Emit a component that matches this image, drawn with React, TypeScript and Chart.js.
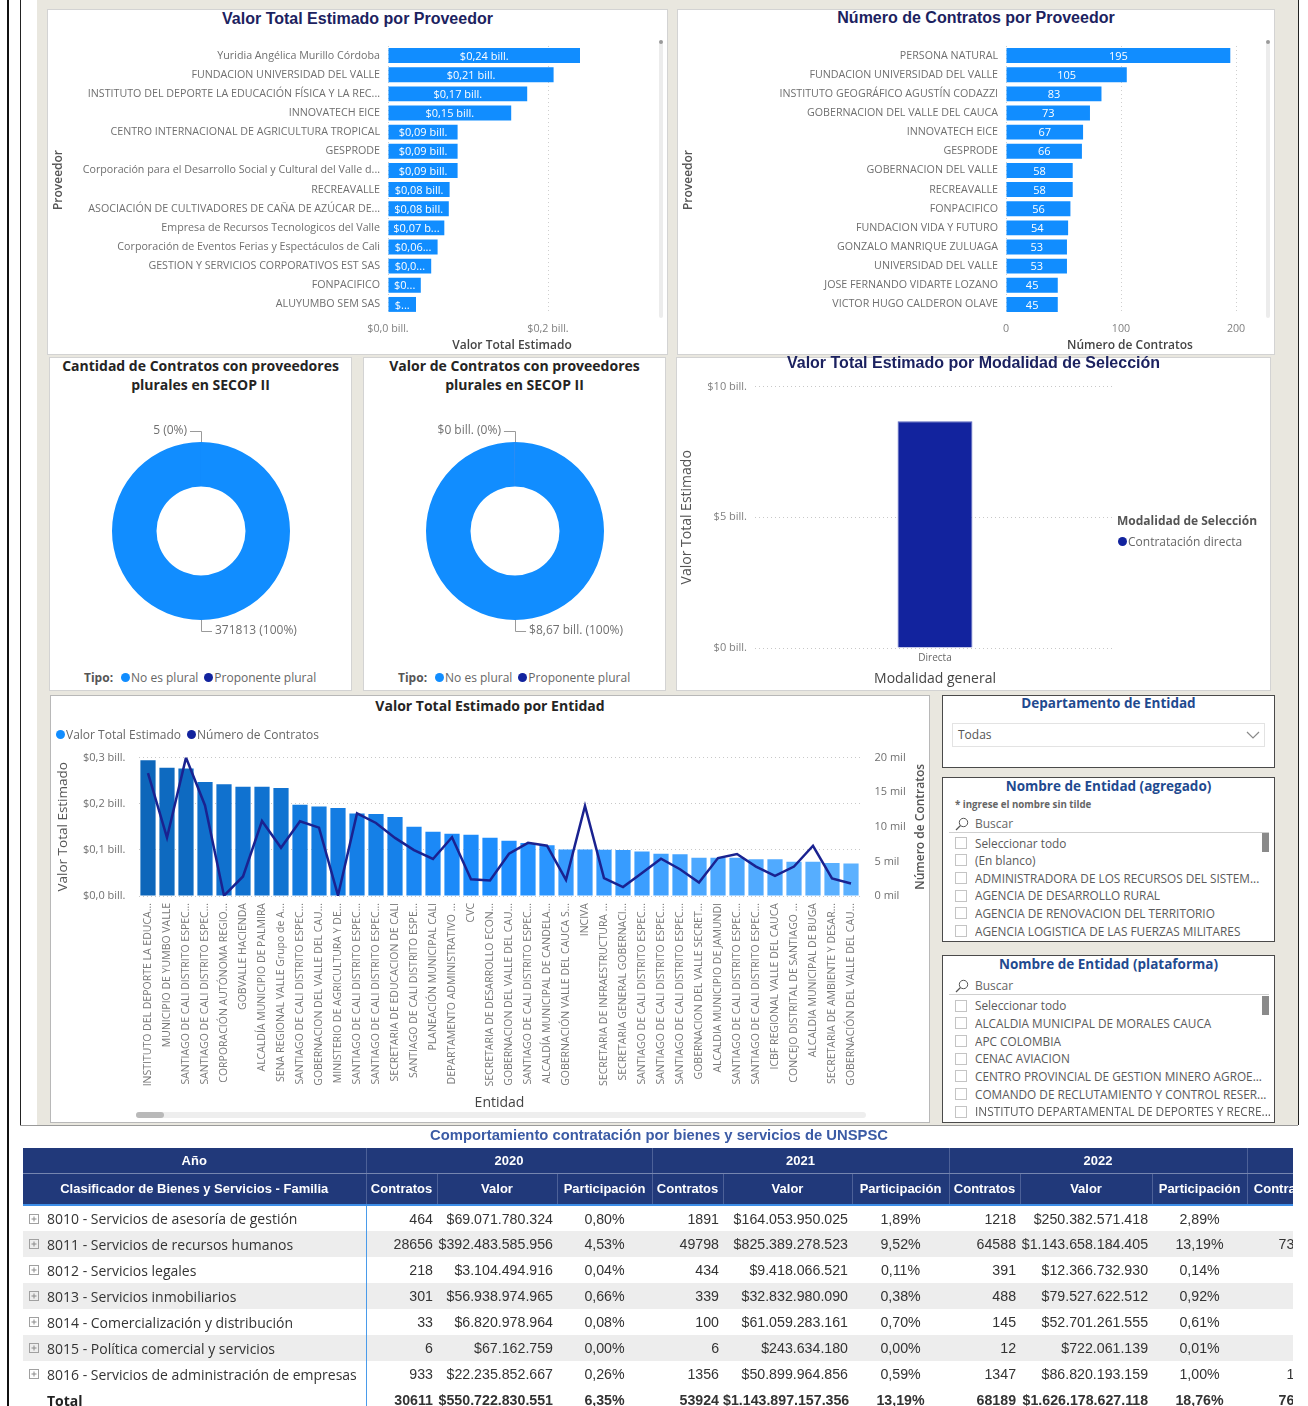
import React, { useEffect, useRef } from "react";
import { Chart, registerables } from "chart.js";

Chart.register(...registerables);

const FONT = "'Open Sans', 'Noto Sans', sans-serif";
const ARIAL = "'Liberation Sans', Arial, sans-serif";
Chart.defaults.font.family = FONT;

// ================= DATA =================
const proveedoresValor = [
  "Yuridia Angélica Murillo Córdoba",
  "FUNDACION UNIVERSIDAD DEL VALLE",
  "INSTITUTO DEL DEPORTE LA EDUCACIÓN FÍSICA Y LA REC...",
  "INNOVATECH EICE",
  "CENTRO INTERNACIONAL DE AGRICULTURA TROPICAL",
  "GESPRODE",
  "Corporación para el Desarrollo Social y Cultural del Valle d...",
  "RECREAVALLE",
  "ASOCIACIÓN DE CULTIVADORES DE CAÑA DE AZÚCAR DE...",
  "Empresa de Recursos Tecnologicos del Valle",
  "Corporación de Eventos Ferias y Espectáculos de Cali",
  "GESTION Y SERVICIOS CORPORATIVOS EST SAS",
  "FONPACIFICO",
  "ALUYUMBO SEM SAS",
];
// billones de pesos
const valorProveedor = [0.24, 0.207, 0.174, 0.154, 0.087, 0.087, 0.087, 0.077, 0.076, 0.0704, 0.062, 0.054, 0.041, 0.035];
const valorProveedorTicks = [0, 0.2];

const proveedoresContratos = [
  "PERSONA NATURAL",
  "FUNDACION UNIVERSIDAD DEL VALLE",
  "INSTITUTO GEOGRÁFICO AGUSTÍN CODAZZI",
  "GOBERNACION DEL VALLE DEL CAUCA",
  "INNOVATECH EICE",
  "GESPRODE",
  "GOBERNACION DEL VALLE",
  "RECREAVALLE",
  "FONPACIFICO",
  "FUNDACION VIDA Y FUTURO",
  "GONZALO MANRIQUE ZULUAGA",
  "UNIVERSIDAD DEL VALLE",
  "JOSE FERNANDO VIDARTE LOZANO",
  "VICTOR HUGO CALDERON OLAVE",
];
const contratosProveedor = [195, 105, 83, 73, 67, 66, 58, 58, 56, 54, 53, 53, 45, 45];
const contratosProveedorTicks = [0, 100, 200];

const tipos = ["No es plural", "Proponente plural"];
const cantidadPorTipo = [371813, 5];
const valorPorTipo = [8.67, 0.002]; // billones

const modalidades = ["Directa"];
const modalidadSerie = "Contratación directa";
const valorModalidad = [8.67];
const modalidadTicks = [0, 5, 10];

const entidades = [
  "INSTITUTO DEL DEPORTE LA EDUCA...",
  "MUNICIPIO DE YUMBO VALLE",
  "SANTIAGO DE CALI DISTRITO ESPEC...",
  "SANTIAGO DE CALI DISTRITO ESPEC...",
  "CORPORACIÓN AUTÓNOMA REGIO...",
  "GOBVALLE HACIENDA",
  "ALCALDÍA MUNICIPIO DE PALMIRA",
  "SENA REGIONAL VALLE Grupo de A...",
  "SANTIAGO DE CALI DISTRITO ESPEC...",
  "GOBERNACION DEL VALLE DEL CAU...",
  "MINISTERIO DE AGRICULTURA Y DE...",
  "SANTIAGO DE CALI DISTRITO ESPEC...",
  "SANTIAGO DE CALI DISTRITO ESPEC...",
  "SECRETARIA DE EDUCACION DE CALI",
  "SANTIAGO DE CALI DISTRITO ESPE...",
  "PLANEACIÓN MUNICIPAL CALI",
  "DEPARTAMENTO ADMINISTRATIVO ...",
  "CVC",
  "SECRETARIA DE DESARROLLO ECON...",
  "GOBERNACION DEL VALLE DEL CAU...",
  "SANTIAGO DE CALI DISTRITO ESPEC...",
  "ALCALDÍA MUNICIPAL DE CANDELA...",
  "GOBERNACIÓN VALLE DEL CAUCA S...",
  "INCIVA",
  "SECRETARIA DE INFRAESTRUCTURA ...",
  "SECRETARIA GENERAL GOBERNACI...",
  "SANTIAGO DE CALI DISTRITO ESPEC...",
  "SANTIAGO DE CALI DISTRITO ESPEC...",
  "SANTIAGO DE CALI DISTRITO ESPEC...",
  "GOBERNACION DEL VALLE SECRET...",
  "ALCALDIA MUNICIPIO DE JAMUNDI",
  "SANTIAGO DE CALI DISTRITO ESPEC...",
  "SANTIAGO DE CALI DISTRITO ESPEC...",
  "ICBF REGIONAL VALLE DEL CAUCA",
  "CONCEJO DISTRITAL DE SANTIAGO ...",
  "ALCALDIA MUNICIPAL DE BUGA",
  "SECRETARIA DE AMBIENTE Y DESAR...",
  "GOBERNACIÓN DEL VALLE DEL CAU...",
];
const valorEntidad = [
  0.2945, 0.278, 0.2765, 0.247, 0.242, 0.237, 0.237, 0.234, 0.198, 0.194,
  0.191, 0.179, 0.178, 0.171, 0.15, 0.139, 0.135, 0.133, 0.126, 0.1196,
  0.115, 0.11, 0.101, 0.101, 0.1, 0.0996, 0.0967, 0.0917, 0.0903, 0.083,
  0.083, 0.083, 0.0795, 0.0795, 0.0745, 0.0745, 0.0716, 0.0702,
];
const contratosEntidad = [
  17760, 8450, 20000, 13080, 50, 2820, 10840, 6970, 10790, 9880,
  80, 11930, 10550, 8400, 6630, 5350, 8500, 2430, 2240, 6110,
  7680, 7260, 2340, 13000, 2580, 1290, 3340, 5390, 3870, 1960,
  5490, 6060, 4250, 2910, 4250, 7260, 2530, 1810,
];

const entidadesAgregado = [
  "Seleccionar todo",
  "(En blanco)",
  "ADMINISTRADORA DE LOS RECURSOS DEL SISTEM...",
  "AGENCIA DE DESARROLLO RURAL",
  "AGENCIA DE RENOVACION DEL TERRITORIO",
  "AGENCIA LOGISTICA DE LAS FUERZAS MILITARES",
];
const entidadesPlataforma = [
  "Seleccionar todo",
  "ALCALDIA MUNICIPAL DE MORALES CAUCA",
  "APC COLOMBIA",
  "CENAC AVIACION",
  "CENTRO PROVINCIAL DE GESTION MINERO AGROE...",
  "COMANDO DE RECLUTAMIENTO Y CONTROL RESER...",
  "INSTITUTO DEPARTAMENTAL DE DEPORTES Y RECRE...",
];

const familias = [
  "8010 - Servicios de asesoría de gestión",
  "8011 - Servicios de recursos humanos",
  "8012 - Servicios legales",
  "8013 - Servicios inmobiliarios",
  "8014 - Comercialización y distribución",
  "8015 - Política comercial y servicios",
  "8016 - Servicios de administración de empresas",
];
const anios = ["2020", "2021", "2022", "2023"];
const contratos2020 = [464, 28656, 218, 301, 33, 6, 933];
const valor2020 = [69071780324, 392483585956, 3104494916, 56938974965, 6820978964, 67162759, 22235852667];
const part2020 = [0.8, 4.53, 0.04, 0.66, 0.08, 0.0, 0.26];
const contratos2021 = [1891, 49798, 434, 339, 100, 6, 1356];
const valor2021 = [164053950025, 825389278523, 9418066521, 32832980090, 61059283161, 243634180, 50899964856];
const part2021 = [1.89, 9.52, 0.11, 0.38, 0.7, 0.0, 0.59];
const contratos2022 = [1218, 64588, 391, 488, 145, 12, 1347];
const valor2022 = [250382571418, 1143658184405, 12366732930, 79527622512, 52701261555, 722061139, 86820193159];
const part2022 = [2.89, 13.19, 0.14, 0.92, 0.61, 0.01, 1.0];
const contratos2023 = [986, 73145, 376, 412, 151, 8, 1398];
const totalPart = [6.35, 13.19, 18.76];

// ================= HELPERS =================
const BLUE = "#118DFF";
const NAVY = "#12239E";
const LINE = "#1A2290";

const fmtBill = (v: number, d: number) => "$" + Number(v).toFixed(d).replace(".", ",") + " bill.";
const fmtDots = (n: number) => String(n).replace(/\B(?=(\d{3})+(?!\d))/g, ".");
const fmtPct = (p: number) => p.toFixed(2).replace(".", ",") + "%";
const sum = (a: number[]) => a.reduce((s, x) => s + x, 0);

const gradStops: [number, number[]][] = [
  [0.07, [92, 177, 255]],
  [0.12, [30, 142, 255]],
  [0.2, [18, 122, 222]],
  [0.295, [13, 102, 186]],
];
function gradColor(v: number) {
  if (v <= gradStops[0][0]) return `rgb(${gradStops[0][1].join(",")})`;
  for (let i = 1; i < gradStops.length; i++) {
    const [v1, c1] = gradStops[i];
    const [v0, c0] = gradStops[i - 1];
    if (v <= v1) {
      const t = (v - v0) / (v1 - v0);
      const c = c0.map((x, k) => Math.round(x + (c1[k] - x) * t));
      return `rgb(${c.join(",")})`;
    }
  }
  return `rgb(${gradStops[gradStops.length - 1][1].join(",")})`;
}

// Bar value labels inside horizontal bars (with truncation)
const hBarLabels = (fmt: (v: number) => string) => ({
  id: "hBarLabels",
  afterDatasetsDraw(chart: any) {
    const ctx = chart.ctx;
    const meta = chart.getDatasetMeta(0);
    const data = chart.data.datasets[0].data as number[];
    ctx.save();
    ctx.font = `11px ${FONT}`;
    ctx.fillStyle = "#fff";
    ctx.textAlign = "center";
    ctx.textBaseline = "middle";
    meta.data.forEach((bar: any, i: number) => {
      const w = bar.x - bar.base;
      const avail = w - 9;
      let t = fmt(data[i]);
      if (ctx.measureText(t).width > avail) {
        let s = t;
        while (s.length > 1 && ctx.measureText(s.trimEnd() + "...").width > avail) s = s.slice(0, -1);
        t = s.trimEnd() + "...";
      }
      ctx.fillText(t, (bar.x + bar.base) / 2, bar.y + 1);
    });
    ctx.restore();
  },
});

// Donut outside labels with leader lines
const donutLabels = (fmt: (v: number, total: number) => string) => ({
  id: "donutLabels",
  afterDatasetsDraw(chart: any) {
    const ctx = chart.ctx;
    const meta = chart.getDatasetMeta(0);
    const data = chart.data.datasets[0].data as number[];
    const total = sum(data);
    ctx.save();
    ctx.font = `12px ${FONT}`;
    ctx.fillStyle = "#707070";
    ctx.strokeStyle = "#9a9a9a";
    ctx.lineWidth = 1;
    meta.data.forEach((arc: any, i: number) => {
      const mid = (arc.startAngle + arc.endAngle) / 2;
      const c = Math.cos(mid);
      const s = Math.sin(mid);
      const x0 = arc.x + c * arc.outerRadius;
      const y0 = arc.y + s * arc.outerRadius;
      const x1 = arc.x + c * (arc.outerRadius + 11);
      const y1 = arc.y + s * (arc.outerRadius + 11);
      const dir = c >= 0 ? 1 : -1;
      const x2 = x1 + dir * 11;
      ctx.beginPath();
      ctx.moveTo(Math.round(x0) + 0.5, y0);
      ctx.lineTo(Math.round(x1) + 0.5, Math.round(y1) + 0.5);
      ctx.lineTo(x2, Math.round(y1) + 0.5);
      ctx.stroke();
      ctx.textAlign = dir > 0 ? "left" : "right";
      ctx.textBaseline = "middle";
      ctx.fillText(fmt(data[i], total), x2 + dir * 3, y1);
    });
    ctx.restore();
  },
});

const rightTitle = {
  id: "rightTitle",
  afterDraw(chart: any) {
    const s = chart.scales.y1;
    const ctx = chart.ctx;
    ctx.save();
    ctx.translate(s.right - 9, (chart.chartArea.top + chart.chartArea.bottom) / 2);
    ctx.rotate(-Math.PI / 2);
    ctx.font = `600 12px ${FONT}`;
    ctx.fillStyle = "#555";
    ctx.textAlign = "center";
    ctx.textBaseline = "middle";
    ctx.fillText("Número de Contratos", 0, 0);
    ctx.restore();
  },
};

function ChartCanvas({ left, top, width, height, build }: any) {
  const ref = useRef<HTMLCanvasElement | null>(null);
  useEffect(() => {
    if (!ref.current) return;
    const chart = new Chart(ref.current, build());
    return () => chart.destroy();
  }, []);
  return (
    <canvas
      ref={ref}
      width={width}
      height={height}
      style={{ position: "absolute", left, top, width, height }}
    />
  );
}

// ================= CHART CONFIGS =================
function hBarConfig(labels: string[], values: number[], o: any) {
  return {
    type: "bar",
    data: {
      labels,
      datasets: [{ data: values, backgroundColor: BLUE, barPercentage: 0.78, categoryPercentage: 1 }],
    },
    options: {
      indexAxis: "y",
      responsive: false,
      animation: false,
      layout: { padding: { left: 4, top: 37, right: o.padRight, bottom: 0 } },
      plugins: { legend: { display: false }, tooltip: { enabled: false } },
      scales: {
        x: {
          min: 0,
          max: o.max,
          afterBuildTicks: (s: any) => {
            s.ticks = o.ticks.map((v: number) => ({ value: v }));
          },
          afterFit: (s: any) => {
            s.height = 41;
          },
          ticks: { callback: (v: any) => o.tickFmt(v), font: { size: 10.7 }, color: "#808080", padding: 9, maxRotation: 0 },
          grid: { drawTicks: false, color: "#cfcfcf" },
          border: { display: false, dash: [1, 3] },
          title: {
            display: true,
            text: o.xTitle,
            font: { size: 12, weight: "600" },
            color: "#444",
            padding: { top: 0, bottom: 2 },
          },
        },
        y: {
          afterFit: (s: any) => {
            s.width = o.yWidth;
          },
          ticks: { font: { size: 10.7 }, color: "#6f6f6f", padding: 8, autoSkip: false },
          grid: { display: false, drawTicks: false },
          border: { display: false },
          title: {
            display: true,
            text: "Proveedor",
            font: { size: 12, weight: "600" },
            color: "#555",
            padding: { top: 0, bottom: 0 },
          },
        },
      },
    },
    plugins: [hBarLabels(o.labelFmt)],
  };
}

function donutConfig(values: number[], fmt: (v: number, t: number) => string) {
  return {
    type: "doughnut",
    data: {
      labels: tipos,
      datasets: [{ data: values, backgroundColor: [BLUE, NAVY], borderWidth: 0 }],
    },
    options: {
      responsive: false,
      animation: false,
      cutout: "50%",
      layout: { padding: 40 },
      plugins: { legend: { display: false }, tooltip: { enabled: false } },
    },
    plugins: [donutLabels(fmt)],
  };
}

function modalidadConfig() {
  return {
    type: "bar",
    data: {
      labels: modalidades,
      datasets: [
        { label: modalidadSerie, data: valorModalidad, backgroundColor: NAVY, borderColor: "#5b66c0", borderWidth: 1, barPercentage: 0.208, categoryPercentage: 1 },
      ],
    },
    options: {
      responsive: false,
      animation: false,
      layout: { padding: { left: 0, top: 14, right: 156, bottom: 0 } },
      plugins: { legend: { display: false }, tooltip: { enabled: false } },
      scales: {
        x: {
          afterFit: (s: any) => {
            s.height = 43;
          },
          ticks: { font: { size: 10 }, color: "#666", padding: 4 },
          grid: { display: false, drawTicks: false },
          border: { display: false },
          title: { display: true, text: "Modalidad general", font: { size: 14 }, color: "#444", padding: { top: 0, bottom: 4 } },
        },
        y: {
          min: 0,
          max: 10,
          afterBuildTicks: (s: any) => {
            s.ticks = modalidadTicks.map((v) => ({ value: v }));
          },
          afterFit: (s: any) => {
            s.width = 79;
          },
          ticks: { callback: (v: any) => "$" + v + " bill.", font: { size: 11 }, color: "#808080", padding: 8 },
          grid: { color: "#c8c8c8", drawTicks: false },
          border: { display: false, dash: [1, 3] },
          title: { display: true, text: "Valor Total Estimado", font: { size: 14 }, color: "#555", padding: { top: 3, bottom: 0 } },
        },
      },
    },
  };
}

function entidadConfig() {
  return {
    type: "bar",
    data: {
      labels: entidades,
      datasets: [
        {
          type: "line",
          label: "Número de Contratos",
          data: contratosEntidad,
          yAxisID: "y1",
          borderColor: LINE,
          borderWidth: 2.5,
          pointRadius: 0,
          tension: 0,
          order: 0,
        },
        {
          type: "bar",
          label: "Valor Total Estimado",
          data: valorEntidad,
          yAxisID: "y",
          backgroundColor: valorEntidad.map(gradColor),
          barPercentage: 0.8,
          categoryPercentage: 1,
          order: 1,
        },
      ],
    },
    options: {
      responsive: false,
      animation: false,
      layout: { padding: { top: 4, bottom: 12, left: 0, right: 0 } },
      plugins: { legend: { display: false }, tooltip: { enabled: false } },
      scales: {
        x: {
          afterFit: (s: any) => {
            s.height = 215;
          },
          ticks: { autoSkip: false, maxRotation: 90, minRotation: 90, font: { size: 10.5 }, color: "#777", padding: 7 },
          grid: { display: false, drawTicks: false },
          border: { display: false },
          title: { display: true, text: "Entidad", font: { size: 14 }, color: "#444", padding: { top: 0, bottom: 0 } },
        },
        y: {
          position: "left",
          min: 0,
          max: 0.3,
          afterBuildTicks: (s: any) => {
            s.ticks = [0, 0.1, 0.2, 0.3].map((v) => ({ value: v }));
          },
          afterFit: (s: any) => {
            s.width = 88.5;
          },
          ticks: { callback: (v: any) => fmtBill(v, 1), font: { size: 11 }, color: "#707070", padding: 13 },
          grid: { color: "#c8c8c8", drawTicks: false },
          border: { display: false, dash: [1, 3] },
          title: { display: true, text: "Valor Total Estimado", font: { size: 13.5 }, color: "#555", padding: { top: 5, bottom: 0 } },
        },
        y1: {
          position: "right",
          min: 0,
          max: 20000,
          afterBuildTicks: (s: any) => {
            s.ticks = [0, 5000, 10000, 15000, 20000].map((v) => ({ value: v }));
          },
          afterFit: (s: any) => {
            s.width = 69.5;
          },
          ticks: { callback: (v: any) => v / 1000 + " mil", font: { size: 11 }, color: "#707070", padding: 14 },
          grid: { display: false, drawTicks: false },
          border: { display: false },
        },
      },
    },
    plugins: [rightTitle],
  };
}

// ================= UI PIECES =================
function Panel({ l, t, w, h, border = "#d3d3d3" }: any) {
  return (
    <div
      style={{
        position: "absolute",
        left: l,
        top: t,
        width: w,
        height: h,
        background: "#fff",
        border: `1px solid ${border}`,
        boxSizing: "border-box",
      }}
    />
  );
}

function Txt({ l, t, w, h, children, style }: any) {
  return (
    <div
      style={{
        position: "absolute",
        left: l,
        top: t,
        width: w,
        height: h,
        lineHeight: h ? h + "px" : undefined,
        whiteSpace: "nowrap",
        ...style,
      }}
    >
      {children}
    </div>
  );
}

const Dot = ({ c }: any) => (
  <span style={{ display: "inline-block", width: 9, height: 9, borderRadius: "50%", background: c, marginRight: 1, flex: "none" }} />
);

function DonutLegend({ l, t }: any) {
  return (
    <div style={{ position: "absolute", left: l, top: t, height: 16, display: "flex", alignItems: "center", fontSize: 12, color: "#666", whiteSpace: "nowrap" }}>
      <span style={{ fontWeight: 700, color: "#555", marginRight: 8 }}>Tipo:</span>
      <Dot c={BLUE} />
      <span style={{ marginRight: 6 }}>{tipos[0]}</span>
      <Dot c={NAVY} />
      <span>{tipos[1]}</span>
    </div>
  );
}

function SearchIcon({ l, t }: any) {
  return (
    <svg style={{ position: "absolute", left: l, top: t }} width="14" height="14" viewBox="0 0 14 14">
      <circle cx="8.5" cy="5.5" r="4.2" fill="none" stroke="#555" strokeWidth="1" />
      <line x1="5.5" y1="8.5" x2="1" y2="13" stroke="#555" strokeWidth="1.2" />
    </svg>
  );
}

function Slicer({ t, h, title, sub, items, searchTop, listTop, step, thumbTop }: any) {
  return (
    <>
      <Panel l={942} t={t} w={333} h={h} border="#4a4a4a" />
      <Txt l={942} t={t} w={333} h={18} style={{ textAlign: "center", fontWeight: 700, fontSize: 13.5, color: "#1F4A8F" }}>
        {title}
      </Txt>
      {sub && (
        <Txt l={955} t={t + 22} h={12} style={{ fontWeight: 700, fontSize: 9.7, color: "#666" }}>
          {sub}
        </Txt>
      )}
      <SearchIcon l={955} t={searchTop} />
      <Txt l={975} t={searchTop} h={14} style={{ fontSize: 12, color: "#666" }}>
        Buscar
      </Txt>
      <div style={{ position: "absolute", left: 949, top: searchTop + 15, width: 320, height: 1, background: "#cfcfcf" }} />
      {items.map((it: string, i: number) => (
        <React.Fragment key={i}>
          <div
            style={{
              position: "absolute",
              left: 955,
              top: listTop + i * step + (step - 13) / 2,
              width: 12,
              height: 12,
              border: "1px solid #c4c4c4",
              background: "#fff",
              boxSizing: "border-box",
            }}
          />
          <Txt l={975} t={listTop + i * step} w={299} h={step} style={{ fontSize: 11.8, color: "#5a5a5a", overflow: "hidden" }}>
            {it}
          </Txt>
        </React.Fragment>
      ))}
      <div style={{ position: "absolute", left: 1262, top: thumbTop, width: 7, height: 19, background: "#8a8a8a" }} />
    </>
  );
}

function ExpandIcon() {
  return (
    <svg width="10" height="10" viewBox="0 0 10 10" style={{ position: "absolute", left: 6, top: 8 }}>
      <rect x="0.5" y="0.5" width="9" height="9" fill="none" stroke="#a0a0a0" />
      <line x1="2.5" y1="5" x2="7.5" y2="5" stroke="#8a8a8a" />
      <line x1="5" y1="2.5" x2="5" y2="7.5" stroke="#8a8a8a" />
    </svg>
  );
}

// ================= TABLE =================
const colW = [343, 71, 120, 95, 71, 129, 97, 71, 132, 95, 75];
const HEAD_BG = "#21397A";

function UnspscTable() {
  const years = [
    { c: contratos2020, v: valor2020, p: part2020 },
    { c: contratos2021, v: valor2021, p: part2021 },
    { c: contratos2022, v: valor2022, p: part2022 },
  ];
  const th: React.CSSProperties = {
    background: HEAD_BG,
    color: "#fff",
    fontFamily: ARIAL,
    fontWeight: 700,
    fontSize: 13,
    textAlign: "center",
    borderRight: "1px solid #4d6198",
    padding: 0,
    whiteSpace: "nowrap",
    overflow: "hidden",
  };
  const num: React.CSSProperties = {
    fontFamily: ARIAL,
    fontSize: 14.2,
    color: "#333",
    textAlign: "right",
    paddingRight: 4,
    paddingLeft: 0,
    whiteSpace: "nowrap",
    overflow: "hidden",
  };
  const pct: React.CSSProperties = { ...num, textAlign: "center", paddingRight: 0 };
  const first: React.CSSProperties = {
    position: "relative",
    fontFamily: FONT,
    fontSize: 14,
    color: "#333",
    paddingLeft: 24,
    whiteSpace: "nowrap",
    overflow: "hidden",
    borderRight: "1px solid #4A9BEA",
  };
  return (
    <div style={{ position: "absolute", left: 23, top: 1148, width: 1270, height: 258, overflow: "hidden" }}>
      <table style={{ borderCollapse: "collapse", tableLayout: "fixed", width: sum(colW) }}>
        <colgroup>
          {colW.map((w, i) => (
            <col key={i} style={{ width: w }} />
          ))}
        </colgroup>
        <thead>
          <tr style={{ height: 25 }}>
            <th style={{ ...th, borderBottom: "1px solid #7686b0" }}>Año</th>
            {anios.slice(0, 3).map((y) => (
              <th key={y} colSpan={3} style={{ ...th, borderBottom: "1px solid #7686b0" }}>
                {y}
              </th>
            ))}
            <th style={{ ...th, borderBottom: "1px solid #7686b0" }}></th>
          </tr>
          <tr style={{ height: 32 }}>
            <th style={{ ...th, borderBottom: "2px solid #3D8EE8" }}>Clasificador de Bienes y Servicios - Familia</th>
            {[0, 1, 2].map((k) => (
              <React.Fragment key={k}>
                <th style={{ ...th, borderBottom: "2px solid #3D8EE8" }}>Contratos</th>
                <th style={{ ...th, borderBottom: "2px solid #3D8EE8" }}>Valor</th>
                <th style={{ ...th, borderBottom: "2px solid #3D8EE8" }}>Participación</th>
              </React.Fragment>
            ))}
            <th style={{ ...th, borderBottom: "2px solid #3D8EE8" }}>Contratos</th>
          </tr>
        </thead>
        <tbody>
          {familias.map((f, i) => (
            <tr key={i} style={{ height: 26, background: i % 2 === 1 ? "#EDEDED" : "#fff" }}>
              <td style={first}>
                <ExpandIcon />
                {f}
              </td>
              {years.map((y, k) => (
                <React.Fragment key={k}>
                  <td style={num}>{y.c[i]}</td>
                  <td style={num}>${fmtDots(y.v[i])}</td>
                  <td style={pct}>{fmtPct(y.p[i])}</td>
                </React.Fragment>
              ))}
              <td style={num}>{contratos2023[i]}</td>
            </tr>
          ))}
          <tr style={{ height: 26, background: "#fff" }}>
            <td style={{ ...first, fontWeight: 700, fontSize: 14, color: "#222" }}>Total</td>
            {years.map((y, k) => (
              <React.Fragment key={k}>
                <td style={{ ...num, fontWeight: 700 }}>{sum(y.c)}</td>
                <td style={{ ...num, fontWeight: 700 }}>${fmtDots(sum(y.v))}</td>
                <td style={{ ...pct, fontWeight: 700 }}>{fmtPct(totalPart[k])}</td>
              </React.Fragment>
            ))}
            <td style={{ ...num, fontWeight: 700 }}>{sum(contratos2023)}</td>
          </tr>
        </tbody>
      </table>
    </div>
  );
}

// ================= APP =================
export default function App() {
  const titleNavy: React.CSSProperties = { textAlign: "center", fontFamily: ARIAL, fontWeight: 700, fontSize: 16, color: "#1C2260" };
  const titleDark: React.CSSProperties = { textAlign: "center", fontWeight: 700, fontSize: 14, color: "#252423", lineHeight: "19px" };
  return (
    <div
      style={{
        position: "absolute",
        left: 0,
        top: 0,
        width: 1308,
        height: 1406,
        overflow: "hidden",
        background: "#fff",
        fontFamily: FONT,
      }}
    >
      {/* canvas / frame */}
      <div style={{ position: "absolute", left: 37, top: 0, width: 1261, height: 1125, background: "#E9E7DF" }} />
      <div style={{ position: "absolute", left: 7, top: 0, width: 2, height: 1406, background: "#111" }} />
      <div style={{ position: "absolute", left: 20, top: 0, width: 1, height: 1125, background: "#222" }} />
      <div style={{ position: "absolute", left: 1298, top: 0, width: 1, height: 1125, background: "#222" }} />
      <div style={{ position: "absolute", left: 20, top: 1125, width: 1278, height: 1, background: "#9a9a9a" }} />

      {/* Row 1 */}
      <Panel l={47} t={9} w={621} h={346} />
      <Panel l={677} t={9} w={598} h={346} />
      <Txt l={47} t={9} w={621} h={20} style={titleNavy}>
        Valor Total Estimado por Proveedor
      </Txt>
      <Txt l={677} t={8} w={598} h={20} style={titleNavy}>
        Número de Contratos por Proveedor
      </Txt>
      <ChartCanvas
        left={47}
        top={9}
        width={621}
        height={346}
        build={() =>
          hBarConfig(proveedoresValor, valorProveedor, {
            padRight: 32,
            yWidth: 337,
            max: 0.31,
            ticks: valorProveedorTicks,
            tickFmt: (v: number) => fmtBill(v, 1),
            labelFmt: (v: number) => fmtBill(v, 2),
            xTitle: "Valor Total Estimado",
          })
        }
      />
      <ChartCanvas
        left={677}
        top={9}
        width={598}
        height={346}
        build={() =>
          hBarConfig(proveedoresContratos, contratosProveedor, {
            padRight: 21,
            yWidth: 325,
            max: 215.6,
            ticks: contratosProveedorTicks,
            tickFmt: (v: number) => String(v),
            labelFmt: (v: number) => String(v),
            xTitle: "Número de Contratos",
          })
        }
      />
      <div style={{ position: "absolute", left: 659, top: 42, width: 4, height: 276, background: "#ececec", borderRadius: 2 }} />
      <div style={{ position: "absolute", left: 659, top: 40, width: 4, height: 4, background: "#9a9a9a", borderRadius: 2 }} />
      <div style={{ position: "absolute", left: 1266, top: 42, width: 4, height: 276, background: "#ececec", borderRadius: 2 }} />
      <div style={{ position: "absolute", left: 1266, top: 40, width: 4, height: 4, background: "#9a9a9a", borderRadius: 2 }} />

      {/* Row 2 */}
      <Panel l={49} t={357} w={303} h={334} />
      <Panel l={363} t={357} w={303} h={334} />
      <Panel l={676} t={357} w={595} h={334} />
      <Txt l={49} t={356} w={303} style={titleDark}>
        Cantidad de Contratos con proveedores
        <br />
        plurales en SECOP II
      </Txt>
      <Txt l={363} t={356} w={303} style={titleDark}>
        Valor de Contratos con proveedores
        <br />
        plurales en SECOP II
      </Txt>
      <ChartCanvas
        left={72}
        top={402}
        width={258}
        height={258}
        build={() => donutConfig(cantidadPorTipo, (v, t) => `${v} (${Math.round((v / t) * 100)}%)`)}
      />
      <ChartCanvas
        left={386}
        top={402}
        width={258}
        height={258}
        build={() =>
          donutConfig(valorPorTipo, (v, t) => {
            const s = v < 0.005 ? "0" : v.toFixed(2).replace(".", ",");
            return `$${s} bill. (${Math.round((v / t) * 100)}%)`;
          })
        }
      />
      <DonutLegend l={84} t={669} />
      <DonutLegend l={398} t={669} />

      <Txt l={676} t={353} w={595} h={20} style={titleNavy}>
        Valor Total Estimado por Modalidad de Selección
      </Txt>
      <ChartCanvas left={676} top={372} width={595} height={319} build={modalidadConfig} />
      <Txt l={1117} t={513} h={16} style={{ fontWeight: 700, fontSize: 12, color: "#555" }}>
        Modalidad de Selección
      </Txt>
      <div style={{ position: "absolute", left: 1118, top: 533, height: 16, display: "flex", alignItems: "center", fontSize: 12, color: "#666", whiteSpace: "nowrap" }}>
        <Dot c={NAVY} />
        <span>{modalidadSerie}</span>
      </div>

      {/* Row 3 */}
      <Panel l={50} t={695} w={880} h={428} border="#b8b8b8" />
      <Txt l={50} t={696} w={880} h={20} style={{ ...titleDark, lineHeight: "20px" }}>
        Valor Total Estimado por Entidad
      </Txt>
      <ChartCanvas left={50} top={737} width={880} height={386} build={entidadConfig} />
      <div style={{ position: "absolute", left: 56, top: 726, height: 16, display: "flex", alignItems: "center", fontSize: 12, color: "#666", whiteSpace: "nowrap" }}>
        <Dot c={BLUE} />
        <span style={{ marginRight: 6 }}>Valor Total Estimado</span>
        <Dot c={NAVY} />
        <span>Número de Contratos</span>
      </div>
      <div style={{ position: "absolute", left: 136, top: 1112, width: 730, height: 6, background: "#eeeeee", borderRadius: 3 }} />
      <div style={{ position: "absolute", left: 136, top: 1112, width: 28, height: 6, background: "#b9b9b9", borderRadius: 3 }} />

      {/* Slicers */}
      <Panel l={942} t={695} w={333} h={73} border="#4a4a4a" />
      <Txt l={942} t={695} w={333} h={17} style={{ textAlign: "center", fontWeight: 700, fontSize: 13.5, color: "#1F4A8F" }}>
        Departamento de Entidad
      </Txt>
      <div style={{ position: "absolute", left: 952, top: 723, width: 313, height: 24, border: "1px solid #e3e3e3", boxSizing: "border-box" }} />
      <Txt l={958} t={723} h={24} style={{ fontSize: 12, color: "#555" }}>
        Todas
      </Txt>
      <svg style={{ position: "absolute", left: 1246, top: 731 }} width="14" height="8" viewBox="0 0 14 8">
        <polyline points="1,1 7,7 13,1" fill="none" stroke="#8a8a8a" strokeWidth="1.2" />
      </svg>

      <Slicer
        t={777}
        h={165}
        title="Nombre de Entidad (agregado)"
        sub="* ingrese el nombre sin tilde"
        items={entidadesAgregado}
        searchTop={817}
        listTop={834.5}
        step={17.6}
        thumbTop={833}
      />
      <Slicer
        t={955}
        h={168}
        title="Nombre de Entidad (plataforma)"
        items={entidadesPlataforma}
        searchTop={979}
        listTop={997.2}
        step={17.67}
        thumbTop={996}
      />

      {/* Table */}
      <Txt l={20} t={1126} w={1278} h={18} style={{ textAlign: "center", fontFamily: ARIAL, fontWeight: 700, fontSize: 14.8, color: "#3B5BA5" }}>
        Comportamiento contratación por bienes y servicios de UNSPSC
      </Txt>
      <UnspscTable />
    </div>
  );
}
